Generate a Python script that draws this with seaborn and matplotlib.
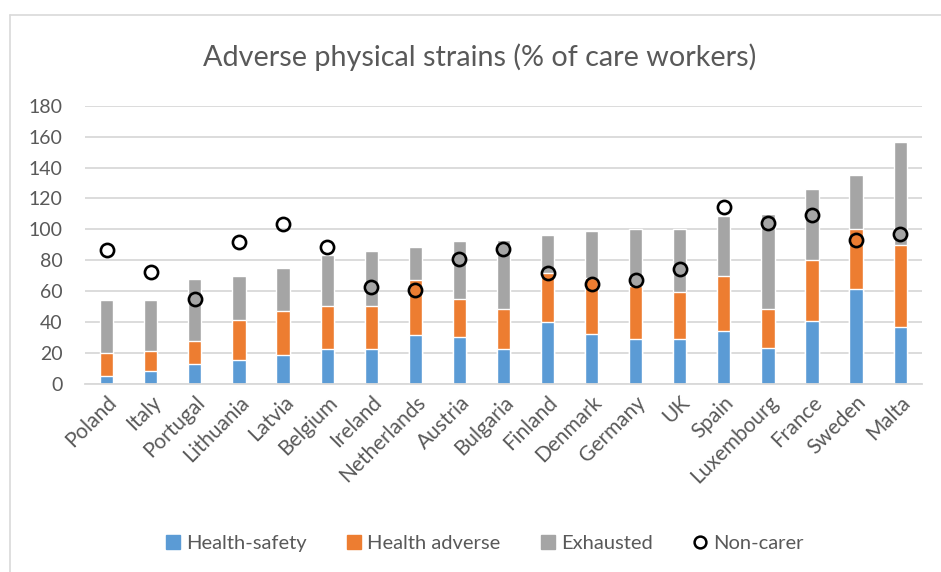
import numpy as np
import pandas as pd
import matplotlib
matplotlib.use("Agg")
import matplotlib.pyplot as plt
import seaborn as sns
from matplotlib.patches import Patch
from matplotlib.lines import Line2D

countries = ["Poland", "Italy", "Portugal", "Lithuania", "Latvia", "Belgium", "Ireland",
             "Netherlands", "Austria", "Bulgaria", "Finland", "Denmark", "Germany", "UK",
             "Spain", "Luxembourg", "France", "Sweden", "Malta"]
# valores (altura de cada segmento)
health_safety = [5.0, 8.6, 12.9, 15.3, 18.5, 22.4, 22.4, 31.3, 30.4, 22.4, 39.7, 32.1, 29.1, 29.1,
                 34.3, 23.3, 40.9, 61.4, 36.9]
health_adverse = [14.8, 12.5, 14.7, 25.9, 28.5, 27.8, 28.2, 35.7, 24.6, 25.9, 32.1, 36.4, 34.0, 30.4,
                  35.3, 25.2, 39.1, 39.0, 53.0]
exhausted = [34.5, 33.2, 40.3, 28.4, 28.0, 33.4, 35.2, 21.8, 37.5, 45.0, 24.8, 30.2, 37.1, 40.7,
             38.8, 61.4, 46.1, 34.7, 66.6]
non_carer = [86.9, 72.2, 55.2, 91.8, 103.4, 88.4, 62.9, 60.6, 80.6, 87.3, 71.8, 64.9, 67.0, 74.6,
             114.2, 103.9, 109.1, 92.9, 97.0]

azul = "#5B9BD5"
naranja = "#ED7D31"
gris = "#A5A5A5"
texto = "#595959"

df = pd.DataFrame({"country": countries, "hs": health_safety, "ha": health_adverse, "ex": exhausted})
df["top_ha"] = df["hs"] + df["ha"]
df["top_ex"] = df["top_ha"] + df["ex"]

sns.set_style("white")
plt.rcParams["font.family"] = ["Lato", "DejaVu Sans"]

fig = plt.figure(figsize=(9.41, 5.72), dpi=100)
ax = fig.add_axes([0.090, 0.329, 0.890, 0.486])

# barras apiladas: se dibuja primero el total y encima los segmentos inferiores
sns.barplot(x="country", y="top_ex", data=df, color=gris, width=0.30, saturation=1, ax=ax, zorder=2)
sns.barplot(x="country", y="top_ha", data=df, color=naranja, width=0.30, saturation=1, ax=ax, zorder=2)
sns.barplot(x="country", y="hs", data=df, color=azul, width=0.30, saturation=1, ax=ax, zorder=2)

ax.plot(np.arange(len(countries)), non_carer, linestyle="none", marker="o", markersize=9.5,
        markerfacecolor="none", markeredgecolor="black", markeredgewidth=1.9, zorder=3)

ax.set_ylim(0, 180)
ax.set_xlim(-0.5, len(countries) - 0.5)
ax.set_yticks(range(0, 181, 20))
ax.yaxis.grid(True, color="#D9D9D9", linewidth=1.3, zorder=0)
ax.set_axisbelow(True)
for s in ["top", "right", "left"]:
    ax.spines[s].set_visible(False)
ax.spines["bottom"].set_color("#D9D9D9")
ax.spines["bottom"].set_linewidth(1.3)
ax.set_xlabel("")
ax.set_ylabel("")
ax.tick_params(axis="both", length=0, colors=texto)
ax.tick_params(axis="y", pad=16, labelsize=14)
ax.tick_params(axis="x", pad=6, labelsize=15)
plt.setp(ax.get_xticklabels(), rotation=45, ha="right", rotation_mode="anchor")

fig.suptitle("Adverse physical strains (% of care workers)", x=0.51, y=0.925, fontsize=20.7, color=texto)

handles = [Patch(color=azul), Patch(color=naranja), Patch(color=gris),
           Line2D([], [], linestyle="none", marker="o", markersize=8.5, markerfacecolor="none",
                  markeredgecolor="black", markeredgewidth=1.8)]
fig.legend(handles, ["Health-safety", "Health adverse", "Exhausted", "Non-carer"], loc="center",
           bbox_to_anchor=(0.515, 0.05), ncol=4, frameon=False, fontsize=14.5, labelcolor=texto,
           handlelength=0.7, handleheight=0.7, handletextpad=0.3, columnspacing=2.0)

# borde del area del grafico (solo arriba e izquierda visibles)
fig.add_artist(Line2D([0.011, 0.011], [0.0, 0.973], transform=fig.transFigure, color="#D9D9D9", linewidth=1.2))
fig.add_artist(Line2D([0.011, 1.0], [0.973, 0.973], transform=fig.transFigure, color="#D9D9D9", linewidth=1.2))

fig.savefig("out.png", dpi=100)
